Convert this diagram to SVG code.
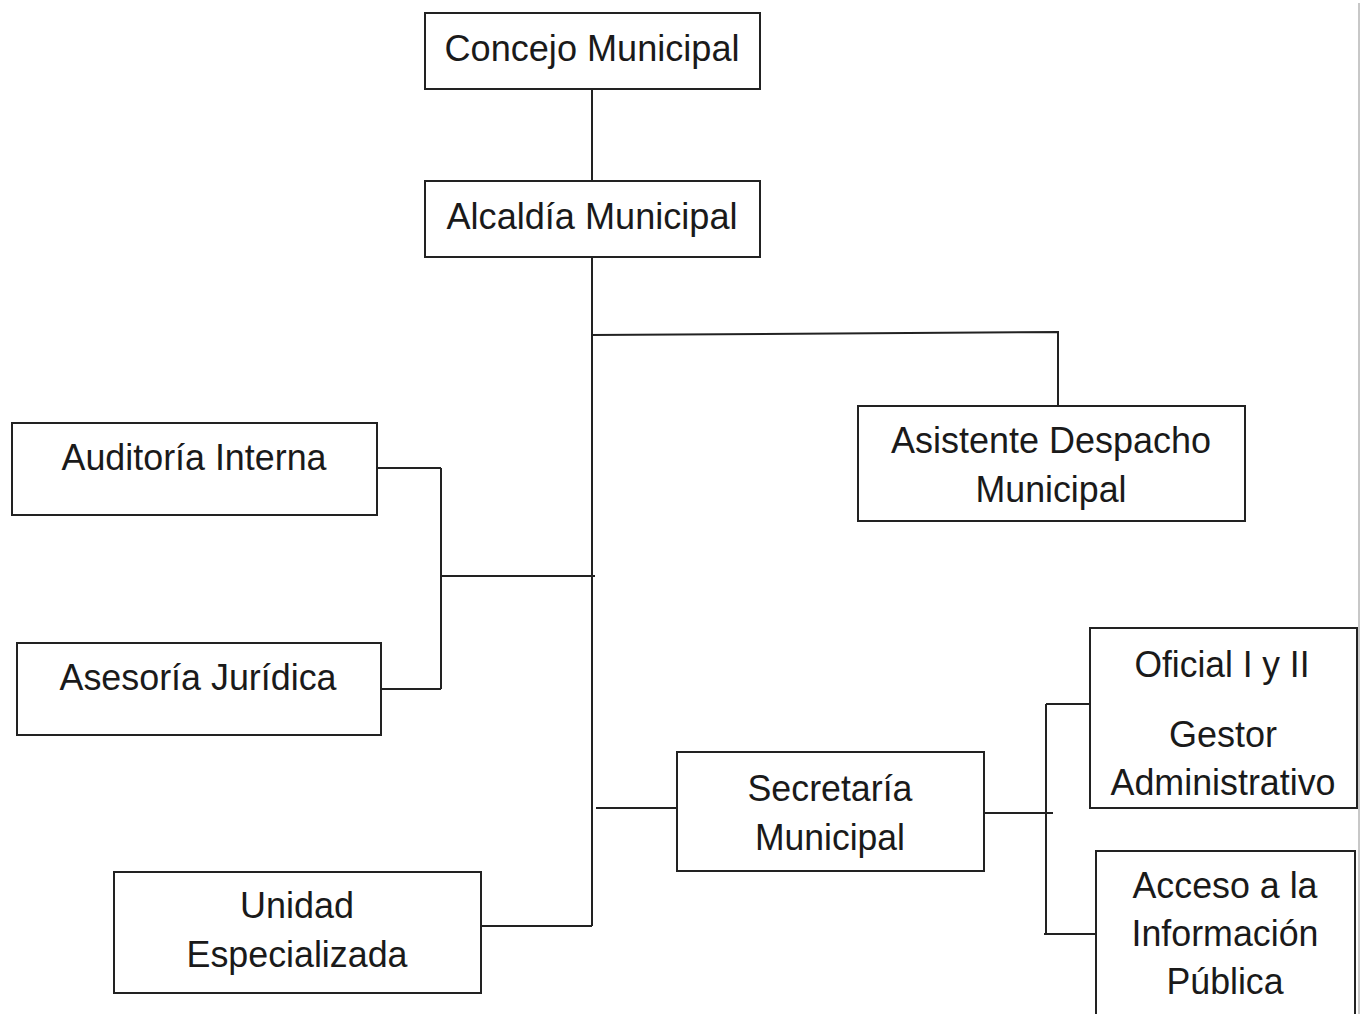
<svg xmlns="http://www.w3.org/2000/svg" width="1362" height="1014" viewBox="0 0 1362 1014">
<style>
.box{fill:#fff;stroke:#222;stroke-width:2}
.t{font-family:"Liberation Sans",Arial,sans-serif;font-size:36px;fill:#1a1a1a;text-anchor:middle}
.c{stroke:#222;stroke-width:2;fill:none}
</style>
<rect width="1362" height="1014" fill="#fff"/>
<line x1="1359" y1="3" x2="1359" y2="1014" stroke="#c8c8c8" stroke-width="2"/>
<g id="connectors">
<line class="c" x1="592" y1="89" x2="592" y2="181"/>
<line class="c" x1="592" y1="257" x2="592" y2="926"/>
<polyline class="c" points="592,335 1058,332 1058,406"/>
<line class="c" x1="441" y1="576" x2="595" y2="576"/>
<line class="c" x1="441" y1="468" x2="441" y2="689"/>
<line class="c" x1="377" y1="468" x2="441" y2="468"/>
<line class="c" x1="381" y1="689" x2="441" y2="689"/>
<line class="c" x1="596" y1="808" x2="677" y2="808"/>
<line class="c" x1="481" y1="926" x2="592" y2="926"/>
<line class="c" x1="984" y1="813" x2="1053" y2="813"/>
<line class="c" x1="1046" y1="704" x2="1046" y2="934"/>
<line class="c" x1="1046" y1="704" x2="1090" y2="704"/>
<line class="c" x1="1044" y1="934" x2="1096" y2="934"/>
</g>
<g id="concejo">
<rect class="box" x="425" y="13" width="335" height="76"/>
<text class="t" x="592" y="61" textLength="295" lengthAdjust="spacingAndGlyphs">Concejo Municipal</text>
</g>
<g id="alcaldia">
<rect class="box" x="425" y="181" width="335" height="76"/>
<text class="t" x="592" y="229" textLength="291" lengthAdjust="spacingAndGlyphs">Alcaldía Municipal</text>
</g>
<g id="auditoria">
<rect class="box" x="12" y="423" width="365" height="92"/>
<text class="t" x="194" y="470" textLength="265" lengthAdjust="spacingAndGlyphs">Auditoría Interna</text>
</g>
<g id="asesoria">
<rect class="box" x="17" y="643" width="364" height="92"/>
<text class="t" x="198" y="690" textLength="277" lengthAdjust="spacingAndGlyphs">Asesoría Jurídica</text>
</g>
<g id="unidad">
<rect class="box" x="114" y="872" width="367" height="121"/>
<text class="t" x="297" y="918" textLength="114" lengthAdjust="spacingAndGlyphs">Unidad</text>
<text class="t" x="297" y="967" textLength="221" lengthAdjust="spacingAndGlyphs">Especializada</text>
</g>
<g id="secretaria">
<rect class="box" x="677" y="752" width="307" height="119"/>
<text class="t" x="830" y="801" textLength="165" lengthAdjust="spacingAndGlyphs">Secretaría</text>
<text class="t" x="830" y="850" textLength="150" lengthAdjust="spacingAndGlyphs">Municipal</text>
</g>
<g id="asistente">
<rect class="box" x="858" y="406" width="387" height="115"/>
<text class="t" x="1051" y="453" textLength="320" lengthAdjust="spacingAndGlyphs">Asistente Despacho</text>
<text class="t" x="1051" y="502" textLength="151" lengthAdjust="spacingAndGlyphs">Municipal</text>
</g>
<g id="oficial">
<rect class="box" x="1090" y="628" width="267" height="180"/>
<text class="t" x="1222" y="677" textLength="175" lengthAdjust="spacingAndGlyphs">Oficial I y II</text>
<text class="t" x="1223" y="747" textLength="108" lengthAdjust="spacingAndGlyphs">Gestor</text>
<text class="t" x="1223" y="795" textLength="225" lengthAdjust="spacingAndGlyphs">Administrativo</text>
</g>
<g id="acceso">
<rect class="box" x="1096" y="851" width="259" height="180"/>
<text class="t" x="1225" y="898" textLength="185" lengthAdjust="spacingAndGlyphs">Acceso a la</text>
<text class="t" x="1225" y="946" textLength="187" lengthAdjust="spacingAndGlyphs">Información</text>
<text class="t" x="1225" y="994" textLength="117" lengthAdjust="spacingAndGlyphs">Pública</text>
</g>
</svg>
